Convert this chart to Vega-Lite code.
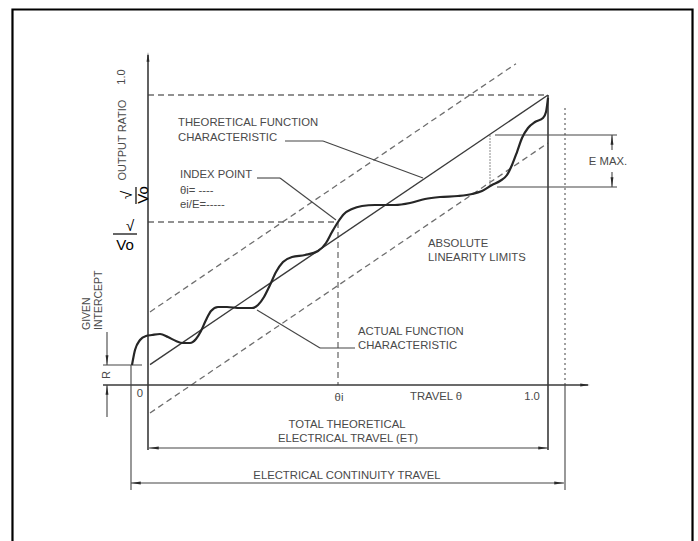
{
  "$schema": "https://vega.github.io/schema/vega-lite/v6.json",
  "width": 698,
  "height": 541,
  "padding": 0,
  "autosize": {"type": "none"},
  "background": "white",
  "config": {"view": {"stroke": null}},
  "datasets": {
    "frame": [{"x": -0.3388, "x2": 1.3613, "y": 1.2948, "y2": -0.5517}],
    "segments": [
      {"cat": "axis", "x": 0, "y": -0.2241, "x2": 0, "y2": 1.1379},
      {"cat": "axis", "x": -0.1125, "y": 0, "x2": 1.1, "y2": 0},
      {"cat": "axis", "x": 1.0, "y": -0.2241, "x2": 1.0, "y2": 1.0},
      {"cat": "dim", "x": 0.0025, "y": -0.2172, "x2": 1.0, "y2": -0.2172},
      {"cat": "dim", "x": -0.0425, "y": -0.3379, "x2": 1.04, "y2": -0.3379},
      {"cat": "dim", "x": -0.0425, "y": 0.069, "x2": -0.0425, "y2": -0.3621},
      {"cat": "dim", "x": 1.0425, "y": 0, "x2": 1.0425, "y2": -0.3621},
      {"cat": "dim", "x": -0.1125, "y": 0.069, "x2": -0.015, "y2": 0.069},
      {"cat": "dim", "x": 0.8675, "y": 0.8621, "x2": 1.1725, "y2": 0.8621},
      {"cat": "dim", "x": 0.8725, "y": 0.6828, "x2": 1.1725, "y2": 0.6828},
      {"cat": "dim", "x": 1.16, "y": 0.8621, "x2": 1.16, "y2": 0.8103},
      {"cat": "dim", "x": 1.16, "y": 0.7345, "x2": 1.16, "y2": 0.6828},
      {"cat": "dim", "x": -0.1025, "y": 0.1828, "x2": -0.1025, "y2": 0.069},
      {"cat": "dim", "x": -0.1025, "y": 0, "x2": -0.1025, "y2": -0.1103},
      {"cat": "theory", "x": 0.005, "y": 0.0705, "x2": 1.0, "y2": 1.0},
      {"cat": "dash", "x": 0, "y": 1.0, "x2": 1.0, "y2": 1.0},
      {"cat": "dash", "x": 0, "y": 0.5621, "x2": 0.475, "y2": 0.5621},
      {"cat": "dash", "x": 0.475, "y": 0.5621, "x2": 0.475, "y2": 0},
      {"cat": "dash", "x": 0.005, "y": 0.252, "x2": 0.92, "y2": 1.108},
      {"cat": "dash", "x": 0.005, "y": -0.0965, "x2": 1.0, "y2": 0.8345},
      {"cat": "dot", "x": 1.0425, "y": 0, "x2": 1.0425, "y2": 0.9655},
      {"cat": "emax", "x": 0.855, "y": 0.6897, "x2": 0.855, "y2": 0.8655},
      {"cat": "leader", "x": 0.3425, "y": 0.8414, "x2": 0.4375, "y2": 0.8414},
      {"cat": "leader", "x": 0.4375, "y": 0.8414, "x2": 0.6875, "y2": 0.7138},
      {"cat": "leader", "x": 0.2725, "y": 0.7138, "x2": 0.33, "y2": 0.7138},
      {"cat": "leader", "x": 0.33, "y": 0.7138, "x2": 0.47, "y2": 0.569},
      {"cat": "leader", "x": 0.5175, "y": 0.1276, "x2": 0.43, "y2": 0.1276},
      {"cat": "leader", "x": 0.43, "y": 0.1276, "x2": 0.2725, "y2": 0.2586},
      {"cat": "frac", "x": -0.0875, "y": 0.5207, "x2": -0.0275, "y2": 0.5207},
      {"cat": "frac", "x": -0.03, "y": 0.6828, "x2": -0.03, "y2": 0.6241}
    ],
    "actual": [
      {"x": -0.04, "y": 0.069}, {"x": -0.0325, "y": 0.1207}, {"x": -0.02, "y": 0.1552},
      {"x": -0.005, "y": 0.169}, {"x": 0.01, "y": 0.1724}, {"x": 0.03, "y": 0.1759},
      {"x": 0.05, "y": 0.1655}, {"x": 0.07, "y": 0.1517}, {"x": 0.0875, "y": 0.1448},
      {"x": 0.105, "y": 0.1448}, {"x": 0.12, "y": 0.1586}, {"x": 0.1325, "y": 0.1862},
      {"x": 0.145, "y": 0.2241}, {"x": 0.1575, "y": 0.2552}, {"x": 0.175, "y": 0.269},
      {"x": 0.1975, "y": 0.269}, {"x": 0.23, "y": 0.2655}, {"x": 0.26, "y": 0.2655},
      {"x": 0.275, "y": 0.2759}, {"x": 0.29, "y": 0.3034}, {"x": 0.305, "y": 0.3448},
      {"x": 0.32, "y": 0.3897}, {"x": 0.3375, "y": 0.4241}, {"x": 0.36, "y": 0.4414},
      {"x": 0.3925, "y": 0.4483}, {"x": 0.425, "y": 0.4621}, {"x": 0.445, "y": 0.4897},
      {"x": 0.46, "y": 0.5276}, {"x": 0.475, "y": 0.5621}, {"x": 0.49, "y": 0.5897},
      {"x": 0.51, "y": 0.6069}, {"x": 0.535, "y": 0.6172}, {"x": 0.5675, "y": 0.6207},
      {"x": 0.6175, "y": 0.6207}, {"x": 0.655, "y": 0.6276}, {"x": 0.6925, "y": 0.6414},
      {"x": 0.73, "y": 0.6483}, {"x": 0.775, "y": 0.6517}, {"x": 0.81, "y": 0.6586},
      {"x": 0.835, "y": 0.669}, {"x": 0.86, "y": 0.6897}, {"x": 0.88, "y": 0.7034},
      {"x": 0.8975, "y": 0.7241}, {"x": 0.91, "y": 0.7586}, {"x": 0.9225, "y": 0.8034},
      {"x": 0.935, "y": 0.8517}, {"x": 0.95, "y": 0.8862}, {"x": 0.9675, "y": 0.9069},
      {"x": 0.9875, "y": 0.9207}, {"x": 0.995, "y": 0.9414}, {"x": 1.0, "y": 0.9897}
    ],
    "arrows": [
      {"dir": "up", "x": 0, "y": 1.131},
      {"dir": "right", "x": 1.0925, "y": 0},
      {"dir": "left", "x": 0.015, "y": -0.2172},
      {"dir": "right", "x": 0.9875, "y": -0.2172},
      {"dir": "left", "x": -0.03, "y": -0.3379},
      {"dir": "right", "x": 1.0275, "y": -0.3379},
      {"dir": "up", "x": 1.16, "y": 0.8448},
      {"dir": "down", "x": 1.16, "y": 0.7},
      {"dir": "down", "x": -0.1025, "y": 0.0862},
      {"dir": "up", "x": -0.1025, "y": -0.0172}
    ],
    "labels": [
      {"kind": "left", "text": "THEORETICAL FUNCTION", "x": 0.075, "y": 0.9034},
      {"kind": "left", "text": "CHARACTERISTIC", "x": 0.075, "y": 0.8517},
      {"kind": "left", "text": "INDEX POINT", "x": 0.08, "y": 0.7241},
      {"kind": "left", "text": "θi= ----", "x": 0.08, "y": 0.669},
      {"kind": "left", "text": "ei/E=-----", "x": 0.08, "y": 0.6207},
      {"kind": "left", "text": "ABSOLUTE", "x": 0.7, "y": 0.4862},
      {"kind": "left", "text": "LINEARITY LIMITS", "x": 0.7, "y": 0.4379},
      {"kind": "left", "text": "ACTUAL FUNCTION", "x": 0.525, "y": 0.1828},
      {"kind": "left", "text": "CHARACTERISTIC", "x": 0.525, "y": 0.1345},
      {"kind": "left", "text": "TRAVEL θ", "x": 0.655, "y": -0.0414},
      {"kind": "center", "text": "E MAX.", "x": 1.15, "y": 0.769},
      {"kind": "center", "text": "θi", "x": 0.4775, "y": -0.0448},
      {"kind": "center", "text": "1.0", "x": 0.96, "y": -0.0414},
      {"kind": "center", "text": "0", "x": -0.02, "y": -0.031},
      {"kind": "center", "text": "TOTAL THEORETICAL", "x": 0.4975, "y": -0.1379},
      {"kind": "center", "text": "ELECTRICAL TRAVEL (ET)", "x": 0.5, "y": -0.1862},
      {"kind": "center", "text": "ELECTRICAL CONTINUITY TRAVEL", "x": 0.4975, "y": -0.3138},
      {"kind": "rot", "text": "1.0", "x": -0.065, "y": 1.0621},
      {"kind": "rot", "text": "OUTPUT RATIO", "x": -0.0625, "y": 0.8448},
      {"kind": "rot", "text": "R", "x": -0.1025, "y": 0.0345},
      {"kind": "rotleft", "text": "GIVEN", "x": -0.1525, "y": 0.1897},
      {"kind": "rotleft", "text": "INTERCEPT", "x": -0.1225, "y": 0.1897},
      {"kind": "blk", "text": "√", "x": -0.045, "y": 0.5483},
      {"kind": "blk", "text": "Vo", "x": -0.0575, "y": 0.4828},
      {"kind": "blkrot", "text": "√", "x": -0.052, "y": 0.6552},
      {"kind": "blkrot", "text": "Vo", "x": -0.0125, "y": 0.6552}
    ]
  },
  "encoding": {
    "x": {"field": "x", "type": "quantitative", "scale": {"domain": [-0.37, 1.375], "nice": false, "zero": false}, "axis": null},
    "y": {"field": "y", "type": "quantitative", "scale": {"domain": [-0.5379, 1.3276], "nice": false, "zero": false}, "axis": null}
  },
  "layer": [
    {
      "data": {"name": "frame"},
      "mark": {"type": "rect", "fill": "transparent", "stroke": "black", "strokeWidth": 2.2},
      "encoding": {"x2": {"field": "x2"}, "y2": {"field": "y2"}}
    },
    {
      "data": {"name": "segments"},
      "transform": [{"filter": "datum.cat === 'dash'"}],
      "mark": {"type": "rule", "color": "#6e6e6e", "strokeWidth": 1.3, "strokeDash": [6, 4]},
      "encoding": {"x2": {"field": "x2"}, "y2": {"field": "y2"}}
    },
    {
      "data": {"name": "segments"},
      "transform": [{"filter": "datum.cat === 'dot'"}],
      "mark": {"type": "rule", "color": "#6e6e6e", "strokeWidth": 1.3, "strokeDash": [2, 3]},
      "encoding": {"x2": {"field": "x2"}, "y2": {"field": "y2"}}
    },
    {
      "data": {"name": "segments"},
      "transform": [{"filter": "datum.cat === 'emax'"}],
      "mark": {"type": "rule", "color": "#8a8a8a", "strokeWidth": 1, "strokeDash": [2, 1]},
      "encoding": {"x2": {"field": "x2"}, "y2": {"field": "y2"}}
    },
    {
      "data": {"name": "segments"},
      "transform": [{"filter": "datum.cat === 'axis'"}],
      "mark": {"type": "rule", "color": "#3a3a3a", "strokeWidth": 1.6},
      "encoding": {"x2": {"field": "x2"}, "y2": {"field": "y2"}}
    },
    {
      "data": {"name": "segments"},
      "transform": [{"filter": "datum.cat === 'dim'"}],
      "mark": {"type": "rule", "color": "#444444", "strokeWidth": 1.1},
      "encoding": {"x2": {"field": "x2"}, "y2": {"field": "y2"}}
    },
    {
      "data": {"name": "segments"},
      "transform": [{"filter": "datum.cat === 'theory'"}],
      "mark": {"type": "rule", "color": "#3a3a3a", "strokeWidth": 1.4},
      "encoding": {"x2": {"field": "x2"}, "y2": {"field": "y2"}}
    },
    {
      "data": {"name": "segments"},
      "transform": [{"filter": "datum.cat === 'leader'"}],
      "mark": {"type": "rule", "color": "#444444", "strokeWidth": 1.1},
      "encoding": {"x2": {"field": "x2"}, "y2": {"field": "y2"}}
    },
    {
      "data": {"name": "segments"},
      "transform": [{"filter": "datum.cat === 'frac'"}],
      "mark": {"type": "rule", "color": "black", "strokeWidth": 1.2},
      "encoding": {"x2": {"field": "x2"}, "y2": {"field": "y2"}}
    },
    {
      "data": {"name": "actual"},
      "mark": {"type": "line", "color": "#262626", "strokeWidth": 2.2, "interpolate": "monotone"},
      "encoding": {}
    },
    {
      "data": {"name": "arrows"},
      "mark": {"type": "point", "filled": true, "color": "#2a2a2a", "opacity": 1, "size": 90},
      "encoding": {
        "shape": {
          "field": "dir",
          "type": "nominal",
          "scale": {
            "domain": ["up", "down", "left", "right"],
            "range": ["M0,-1L0.3,1L-0.3,1Z", "M0,1L0.3,-1L-0.3,-1Z", "M-1,0L1,-0.3L1,0.3Z", "M1,0L-1,-0.3L-1,0.3Z"]
          },
          "legend": null
        }
      }
    },
    {
      "data": {"name": "labels"},
      "transform": [{"filter": "datum.kind === 'left'"}],
      "mark": {"type": "text", "align": "left", "baseline": "middle", "font": "Liberation Sans", "fontSize": 11.3, "color": "#4a4a4a"},
      "encoding": {"text": {"field": "text"}}
    },
    {
      "data": {"name": "labels"},
      "transform": [{"filter": "datum.kind === 'center'"}],
      "mark": {"type": "text", "align": "center", "baseline": "middle", "font": "Liberation Sans", "fontSize": 11.3, "color": "#4a4a4a"},
      "encoding": {"text": {"field": "text"}}
    },
    {
      "data": {"name": "labels"},
      "transform": [{"filter": "datum.kind === 'rot'"}],
      "mark": {"type": "text", "align": "center", "baseline": "middle", "angle": 270, "font": "Liberation Sans", "fontSize": 11, "color": "#4a4a4a"},
      "encoding": {"text": {"field": "text"}}
    },
    {
      "data": {"name": "labels"},
      "transform": [{"filter": "datum.kind === 'rotleft'"}],
      "mark": {"type": "text", "align": "left", "baseline": "middle", "angle": 270, "font": "Liberation Sans", "fontSize": 10.5, "color": "#4a4a4a"},
      "encoding": {"text": {"field": "text"}}
    },
    {
      "data": {"name": "labels"},
      "transform": [{"filter": "datum.kind === 'blk'"}],
      "mark": {"type": "text", "align": "center", "baseline": "middle", "font": "Liberation Sans", "fontSize": 15, "color": "black"},
      "encoding": {"text": {"field": "text"}}
    },
    {
      "data": {"name": "labels"},
      "transform": [{"filter": "datum.kind === 'blkrot'"}],
      "mark": {"type": "text", "align": "center", "baseline": "middle", "angle": 270, "font": "Liberation Sans", "fontSize": 15, "color": "black"},
      "encoding": {"text": {"field": "text"}}
    }
  ]
}
